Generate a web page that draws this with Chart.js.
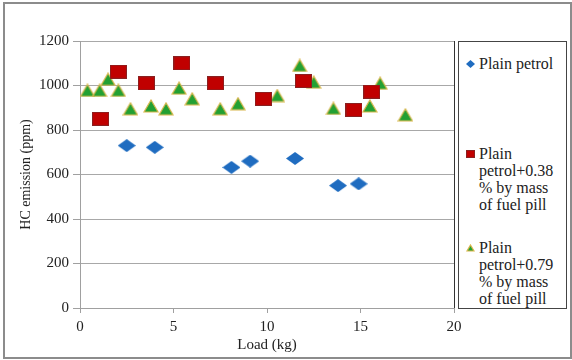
<!DOCTYPE html>
<html>
<head>
<meta charset="utf-8">
<script src="https://cdn.jsdelivr.net/npm/chart.js@4/dist/chart.umd.min.js"></script>
</head>
<body style="margin:0;background:#fff;font-family:'Liberation Serif','Times New Roman',serif">
<div style="position:absolute;left:3px;top:2px;width:565px;height:353px;border:2px solid #8c8c8c"></div>
<canvas id="chart" width="572" height="360" style="position:absolute;left:0;top:0"></canvas>
<div style="position:absolute;left:458px;top:41px;width:107px;height:266px;border:1px solid #444;background:#fff;color:#222;font-family:'Liberation Serif','Times New Roman',serif;font-size:16px;line-height:17px">
  <div style="position:absolute;left:7px;top:13px;padding-left:13px;white-space:nowrap"><canvas id="sw0" width="9" height="8" style="position:absolute;left:0;top:5px"></canvas>Plain petrol</div>
  <div style="position:absolute;left:7px;top:103px;padding-left:13px;white-space:nowrap"><canvas id="sw1" width="9" height="8" style="position:absolute;left:0;top:5px"></canvas>Plain<br>petrol+0.38<br>% by mass<br>of fuel pill</div>
  <div style="position:absolute;left:7px;top:197px;padding-left:13px;white-space:nowrap"><canvas id="sw2" width="9" height="8" style="position:absolute;left:0;top:5px"></canvas>Plain<br>petrol+0.79<br>% by mass<br>of fuel pill</div>
</div>
<script>
//data
var petrol_load = [2.5, 4, 8.1, 9.1, 11.5, 13.8, 14.9];
var petrol_hc = [730, 722, 632, 660, 672, 550, 558];

var pill038_load = [1.1, 2.05, 3.55, 5.45, 7.25, 9.8, 11.95, 14.65, 15.6];
var pill038_hc = [850, 1062, 1010, 1100, 1010, 940, 1020, 890, 972];

var pill079_load = [0.4, 1.05, 1.5, 2.05, 2.7, 3.8, 4.6, 5.3, 6.0, 7.5, 8.45, 10.55, 11.75, 12.5, 13.55, 15.5, 16.05, 17.4];
var pill079_hc = [978, 978, 1028, 978, 895, 908, 895, 988, 940, 895, 918, 955, 1090, 1015, 897, 908, 1010, 868];

var series_names = ['Plain petrol', 'Plain petrol+0.38 % by mass of fuel pill', 'Plain petrol+0.79 % by mass of fuel pill'];
var x_ticks = [0, 5, 10, 15, 20];

var serif = "'Liberation Serif', 'Times New Roman', serif";

//build xy pairs
function toPoints(xs, ys){
  var pts = [];
  for(var i = 0; i < xs.length; i++){
    pts.push({x: xs[i], y: ys[i]});
  }
  return pts;
}

//marker pictures
function diamond(w, h){
  var c = document.createElement('canvas');
  c.width = w; c.height = h;
  var g = c.getContext('2d');
  g.fillStyle = '#1f6cc0';
  g.beginPath();
  g.moveTo(w/2, 0); g.lineTo(w, h/2); g.lineTo(w/2, h); g.lineTo(0, h/2);
  g.closePath(); g.fill();
  return c;
}
function square(w, h){
  var c = document.createElement('canvas');
  c.width = w; c.height = h;
  var g = c.getContext('2d');
  g.fillStyle = '#c00000';
  g.fillRect(0, 0, w, h);
  g.strokeStyle = '#8a2020';
  g.strokeRect(0.5, 0.5, w-1, h-1);
  return c;
}
function triangle(w, h){
  var c = document.createElement('canvas');
  c.width = w; c.height = h;
  var g = c.getContext('2d');
  g.fillStyle = '#22a033';
  g.strokeStyle = '#d8b64a';
  g.lineWidth = 1.2;
  g.beginPath();
  g.moveTo(w/2, 1); g.lineTo(w-1, h-1); g.lineTo(1, h-1);
  g.closePath(); g.fill(); g.stroke();
  return c;
}

//legend swatches
function swatch(id, img){
  var g = document.getElementById(id).getContext('2d');
  g.drawImage(img, 0, 0, 9, 8);
}
swatch('sw0', diamond(9, 8));
swatch('sw1', square(9, 8));
swatch('sw2', triangle(9, 8));

var data = {
  datasets: [{
    label: series_names[0],
    data: toPoints(petrol_load, petrol_hc),
    pointStyle: diamond(18, 13)
  }, {
    label: series_names[1],
    data: toPoints(pill038_load, pill038_hc),
    pointStyle: square(17, 14)
  }, {
    label: series_names[2],
    data: toPoints(pill079_load, pill079_hc),
    pointStyle: triangle(16, 14)
  }]
};

Chart.defaults.font.family = serif;
var tickFont = {family: serif, size: 15};

var config = {
  type: 'scatter',
  data: data,
  options: {
    responsive: false,
    animation: false,
    layout: { padding: {left: 18, right: 118, top: 41, bottom: 4} },
    plugins: {
      legend: { display: false },
      tooltip: { enabled: false }
    },
    scales: {
      x: {
        min: 0, max: 20,
        afterBuildTicks: function(s){ s.ticks = x_ticks.map(function(v){ return {value: v}; }); },
        afterFit: function(s){ s.height = 360 - 308 - 4; s.paddingRight = 0; s.paddingLeft = 0; },
        border: { color: '#a0a0a0' },
        grid: {
          color: function(ctx){ return ctx.tick && ctx.tick.value === 20 ? '#333' : 'rgba(0,0,0,0)'; },
          tickColor: '#a0a0a0',
          tickLength: 5
        },
        ticks: { color: '#222', font: tickFont, padding: 5, maxRotation: 0 },
        title: { display: true, text: 'Load (kg)', color: '#222', font: {family: serif, size: 15}, padding: {top: 0, bottom: 2} }
      },
      y: {
        min: 0, max: 1200,
        afterFit: function(s){ s.width = 62; s.paddingTop = 0; s.paddingBottom = 0; },
        border: { color: '#a0a0a0' },
        grid: { color: '#a8a8a8', tickColor: '#a0a0a0', tickLength: 7 },
        ticks: { stepSize: 200, color: '#222', font: tickFont, padding: 4, callback: function(v){ return String(v); } },
        title: { display: true, text: 'HC emission (ppm)', color: '#222', font: {family: serif, size: 14}, padding: {top: 0, bottom: 2} }
      }
    }
  }
};

var hcChart = new Chart(document.getElementById('chart'), config);

//redraw once the fonts are ready
if (document.fonts && document.fonts.ready) {
  document.fonts.ready.then(function(){ hcChart.update(); });
}
</script>
</body>
</html>
